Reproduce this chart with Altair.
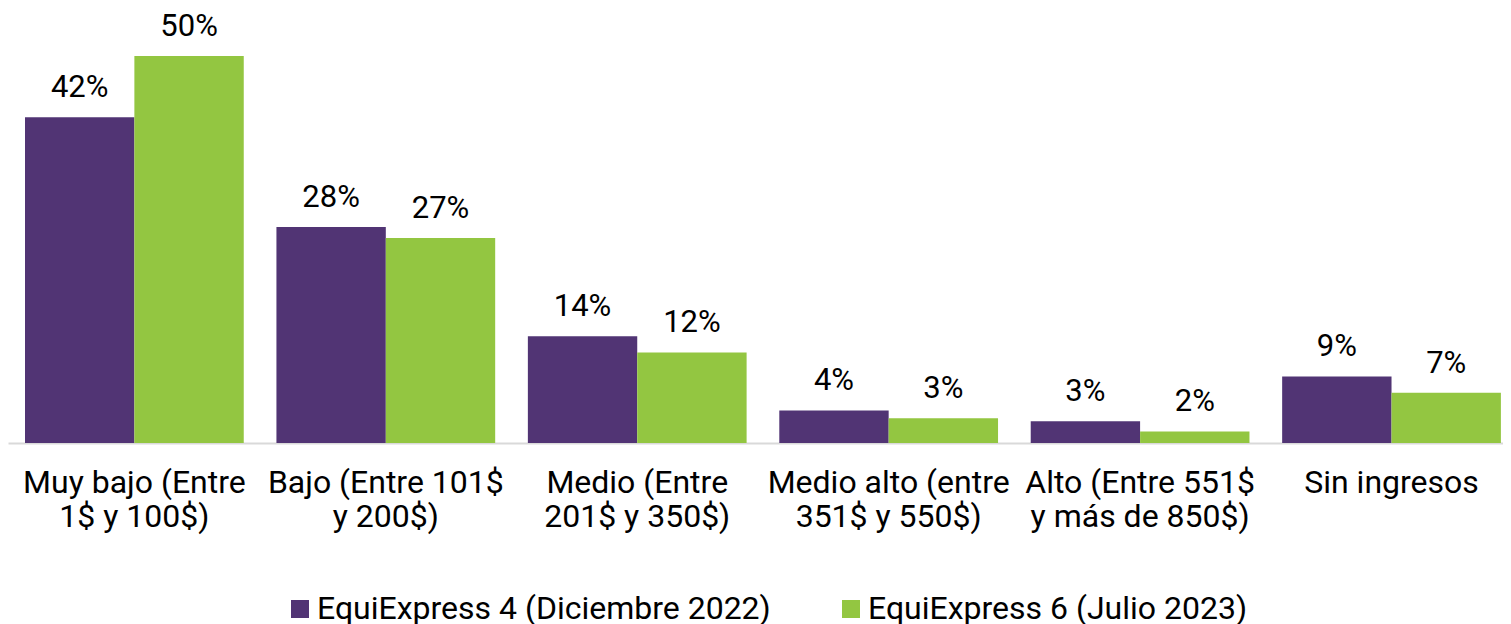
import altair as alt
import pandas as pd

categories = [
    "Muy bajo (Entre|1$ y 100$)",
    "Bajo (Entre 101$|y 200$)",
    "Medio (Entre|201$ y 350$)",
    "Medio alto (entre|351$ y 550$)",
    "Alto (Entre 551$|y más de 850$)",
    "Sin ingresos",
]
series = ["EquiExpress 4 (Diciembre 2022)", "EquiExpress 6 (Julio 2023)"]
values_s4 = [42.1, 27.9, 13.8, 4.2, 2.8, 8.6]
values_s6 = [50.0, 26.5, 11.7, 3.2, 1.5, 6.5]
labels_s4 = ["42%", "28%", "14%", "4%", "3%", "9%"]
labels_s6 = ["50%", "27%", "12%", "3%", "2%", "7%"]
colors = ["#513474", "#93C641"]

rows = []
for c, v, l in zip(categories, values_s4, labels_s4):
    rows.append({"cat": c, "serie": series[0], "val": v, "lab": l})
for c, v, l in zip(categories, values_s6, labels_s6):
    rows.append({"cat": c, "serie": series[1], "val": v, "lab": l})
df = pd.DataFrame(rows)

FONT = "Roboto"

x = alt.X(
    "cat:N",
    sort=categories,
    title=None,
    scale=alt.Scale(paddingInner=0.13, paddingOuter=0.038, align=0.89),
    axis=alt.Axis(
        labelExpr="split(datum.label, '|')",
        labelAngle=0,
        labelFontSize=32,
        labelFont=FONT,
        labelColor="#000000",
        labelPadding=24,
        labelLineHeight=34,
        labelLimit=400,
        ticks=False,
        domainColor="#d9d9d9",
        domainWidth=2,
        grid=False,
    ),
)
y = alt.Y("val:Q", scale=alt.Scale(domain=[0, 56.2], nice=False), axis=None)
xo = alt.XOffset("serie:N", sort=series)

base = alt.Chart(df).encode(x=x, xOffset=xo)

bars = base.mark_bar().encode(
    y=y,
    color=alt.Color(
        "serie:N",
        sort=series,
        scale=alt.Scale(domain=series, range=colors),
        legend=alt.Legend(
            title=None,
            orient="none",
            legendX=276,
            legendY=585,
            direction="horizontal",
            symbolType="square",
            symbolSize=324,
            symbolStrokeWidth=0,
            labelFontSize=32,
            labelFont=FONT,
            labelColor="#000000",
            labelOffset=1,
            columnPadding=64,
            padding=0,
            labelLimit=700,
        ),
    ),
)

text = base.mark_text(
    font=FONT, fontSize=31, color="#000000", baseline="alphabetic", dy=-20
).encode(y=y, text="lab:N")

chart = (
    (bars + text)
    .properties(width=1495, height=435)
    .configure(padding=0)
    .configure_view(stroke=None)
)

chart.save("out.html", embed_options={"renderer": "svg", "actions": False})
